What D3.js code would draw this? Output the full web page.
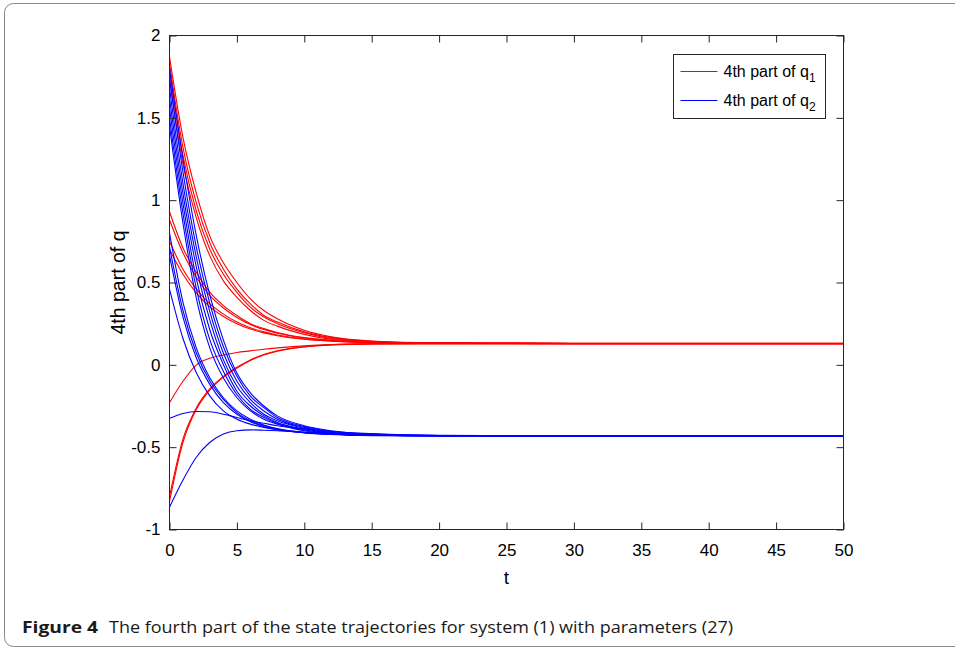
<!DOCTYPE html>
<html>
<head>
<meta charset="utf-8">
<script src="https://cdn.jsdelivr.net/npm/d3@7"></script>
<style>
  body { margin: 0; background: #fff; }
  text { font-family: "Liberation Sans", Arial, sans-serif; }
</style>
</head>
<body>
<svg id="chart" width="955" height="651"></svg>
<script>
// time samples (t)
var times = [0, 1, 2, 3, 4, 5, 6, 7, 8, 10, 12, 15, 20, 30, 50];

// 4th part of q1 (red trajectories)
var q1Top1 = [1.87, 1.38, 1.04, 0.78, 0.62, 0.50, 0.40, 0.33, 0.28, 0.21, 0.17, 0.145, 0.134, 0.131, 0.131];
var q1Top2 = [1.83, 1.32, 0.98, 0.74, 0.58, 0.46, 0.37, 0.30, 0.26, 0.20, 0.165, 0.143, 0.133, 0.131, 0.131];
var q1Top3 = [1.78, 1.27, 0.93, 0.70, 0.55, 0.44, 0.35, 0.29, 0.25, 0.195, 0.16, 0.142, 0.132, 0.13, 0.13];
var q1Top4 = [1.74, 1.22, 0.89, 0.66, 0.51, 0.41, 0.33, 0.27, 0.235, 0.185, 0.155, 0.14, 0.132, 0.13, 0.13];
var q1Mid1 = [0.93, 0.71, 0.56, 0.44, 0.36, 0.30, 0.25, 0.22, 0.196, 0.165, 0.149, 0.137, 0.132, 0.13, 0.13];
var q1Mid2 = [0.88, 0.68, 0.53, 0.42, 0.345, 0.288, 0.245, 0.214, 0.192, 0.163, 0.148, 0.137, 0.132, 0.13, 0.13];
var q1Mid3 = [0.75, 0.58, 0.46, 0.37, 0.308, 0.26, 0.225, 0.20, 0.181, 0.157, 0.145, 0.136, 0.131, 0.129, 0.129];
var q1Mid4 = [0.70, 0.55, 0.435, 0.352, 0.294, 0.25, 0.217, 0.194, 0.177, 0.155, 0.144, 0.135, 0.131, 0.129, 0.129];
var q1Low1 = [-0.23, -0.10, 0.0, 0.04, 0.06, 0.075, 0.085, 0.095, 0.103, 0.115, 0.123, 0.128, 0.129, 0.129, 0.129];
var q1Low2 = [-0.80, -0.45, -0.26, -0.145, -0.07, -0.015, 0.03, 0.063, 0.085, 0.11, 0.122, 0.127, 0.129, 0.129, 0.129];
var q1Low3 = [-0.83, -0.47, -0.27, -0.152, -0.075, -0.02, 0.027, 0.06, 0.083, 0.109, 0.121, 0.127, 0.129, 0.129, 0.129];

// 4th part of q2 (blue trajectories)
var q2Top1 = [1.80, 1.25, 0.78, 0.42, 0.15, -0.05, -0.17, -0.25, -0.31, -0.37, -0.40, -0.42, -0.429, -0.43, -0.43];
var q2Top2 = [1.74, 1.17, 0.71, 0.37, 0.11, -0.07, -0.19, -0.26, -0.32, -0.375, -0.405, -0.422, -0.43, -0.43, -0.43];
var q2Top3 = [1.68, 1.10, 0.65, 0.32, 0.07, -0.10, -0.21, -0.28, -0.33, -0.38, -0.41, -0.425, -0.43, -0.43, -0.43];
var q2Top4 = [1.62, 1.04, 0.59, 0.27, 0.03, -0.13, -0.23, -0.30, -0.34, -0.385, -0.412, -0.426, -0.43, -0.431, -0.431];
var q2Top5 = [1.56, 0.98, 0.52, 0.21, 0.0, -0.16, -0.25, -0.31, -0.35, -0.39, -0.415, -0.427, -0.431, -0.431, -0.431];
var q2Top6 = [1.50, 0.92, 0.46, 0.15, -0.04, -0.18, -0.27, -0.32, -0.355, -0.395, -0.418, -0.428, -0.431, -0.431, -0.431];
var q2Top7 = [1.45, 0.86, 0.40, 0.10, -0.08, -0.20, -0.28, -0.33, -0.36, -0.40, -0.42, -0.43, -0.431, -0.431, -0.431];
var q2Mid1 = [0.80, 0.38, 0.10, -0.08, -0.20, -0.28, -0.33, -0.365, -0.387, -0.41, -0.42, -0.428, -0.43, -0.43, -0.43];
var q2Mid2 = [0.715, 0.33, 0.07, -0.10, -0.21, -0.29, -0.34, -0.37, -0.39, -0.412, -0.422, -0.428, -0.43, -0.43, -0.43];
var q2Mid3 = [0.665, 0.29, 0.04, -0.12, -0.23, -0.30, -0.345, -0.375, -0.393, -0.413, -0.423, -0.429, -0.43, -0.43, -0.43];
var q2Mid4 = [0.46, 0.16, -0.05, -0.19, -0.28, -0.33, -0.36, -0.38, -0.395, -0.41, -0.42, -0.428, -0.43, -0.43, -0.43];
var q2Hump = [-0.325, -0.295, -0.283, -0.285, -0.30, -0.32, -0.34, -0.355, -0.37, -0.39, -0.405, -0.418, -0.428, -0.43, -0.43];
var q2Rise = [-0.865, -0.70, -0.56, -0.47, -0.42, -0.40, -0.395, -0.397, -0.40, -0.41, -0.418, -0.425, -0.43, -0.43, -0.43];

var redSeries = [q1Top1, q1Top2, q1Top3, q1Top4, q1Mid1, q1Mid2, q1Mid3, q1Mid4, q1Low1, q1Low2, q1Low3];
var blueSeries = [q2Top1, q2Top2, q2Top3, q2Top4, q2Top5, q2Top6, q2Top7, q2Mid1, q2Mid2, q2Mid3, q2Mid4, q2Hump, q2Rise];

var xTicks = [0, 5, 10, 15, 20, 25, 30, 35, 40, 45, 50];
var yTicks = [-1, -0.5, 0, 0.5, 1, 1.5, 2];
var legendLabels = ["4th part of q", "4th part of q"];
var legendSubs = ["1", "2"];

var margin = { top: 35.5, right: 111.5, bottom: 121.5, left: 169.5 };
var svg = d3.select("#chart");
var width = 955 - margin.left - margin.right;
var height = 651 - margin.top - margin.bottom;

// outer figure frame (rounded, runs off the right edge)
svg.append("rect")
  .attr("x", 4.5).attr("y", 3.5)
  .attr("width", 1000).attr("height", 643)
  .attr("rx", 9)
  .attr("fill", "none")
  .attr("stroke", "#8a8a8a")
  .attr("stroke-width", 1);

var chartGroup = svg.append("g")
  .attr("transform", `translate(${margin.left}, ${margin.top})`);

var x = d3.scaleLinear().domain([0, 50]).range([0, width]);
var y = d3.scaleLinear().domain([-1, 2]).range([height, 0]);

// clip so curves stay inside the box
chartGroup.append("clipPath").attr("id", "plotclip")
  .append("rect").attr("width", width).attr("height", height);

var line = d3.line()
  .x((d, i) => x(times[i]))
  .y(d => y(d))
  .curve(d3.curveMonotoneX);

var lines = chartGroup.append("g").attr("clip-path", "url(#plotclip)");

lines.selectAll(".red")
  .data(redSeries)
  .enter()
  .append("path")
  .attr("class", "red")
  .attr("d", line)
  .attr("fill", "none")
  .attr("stroke", "#ff0000")
  .attr("stroke-width", 1.1);

lines.selectAll(".blue")
  .data(blueSeries)
  .enter()
  .append("path")
  .attr("class", "blue")
  .attr("d", line)
  .attr("fill", "none")
  .attr("stroke", "#0000ff")
  .attr("stroke-width", 1.1);

// axes, matlab style: ticks inside on every side
function styleAxis(g) {
  g.attr("font-family", null);
  g.select(".domain").remove();
  g.selectAll(".tick line").attr("stroke", "#262626");
  g.selectAll(".tick text").attr("fill", "#000").style("font-size", "17px");
}

chartGroup.append("g")
  .attr("transform", `translate(0, ${height})`)
  .call(d3.axisBottom(x).tickValues(xTicks).tickSize(-7).tickPadding(14).tickFormat(d => String(d)))
  .call(styleAxis);

chartGroup.append("g")
  .call(d3.axisTop(x).tickValues(xTicks).tickSize(-7).tickFormat(""))
  .call(styleAxis);

chartGroup.append("g")
  .call(d3.axisLeft(y).tickValues(yTicks).tickSize(-7).tickPadding(9).tickFormat(d => String(d)))
  .call(styleAxis);

chartGroup.append("g")
  .attr("transform", `translate(${width}, 0)`)
  .call(d3.axisRight(y).tickValues(yTicks).tickSize(-7).tickFormat(""))
  .call(styleAxis);

chartGroup.append("rect")
  .attr("width", width).attr("height", height)
  .attr("fill", "none")
  .attr("stroke", "#262626")
  .attr("stroke-width", 1);

// axis labels
chartGroup.append("text")
  .attr("x", width / 2)
  .attr("y", height + 54)
  .attr("text-anchor", "middle")
  .style("font-size", "19px")
  .text("t");

chartGroup.append("text")
  .attr("transform", "rotate(-90)")
  .attr("x", -height / 2)
  .attr("y", -45)
  .attr("text-anchor", "middle")
  .style("font-size", "19.5px")
  .text("4th part of q");

// legend
var legend = svg.append("g").attr("transform", "translate(673.5, 54.5)");
legend.append("rect")
  .attr("width", 152).attr("height", 64)
  .attr("fill", "#fff")
  .attr("stroke", "#262626");

var legendColors = ["#ff0000", "#0000ff"];
legendLabels.forEach(function(label, i) {
  var ly = 17 + i * 29;
  legend.append("line")
    .attr("x1", 7).attr("x2", 44)
    .attr("y1", ly).attr("y2", ly)
    .attr("stroke", legendColors[i])
    .attr("stroke-width", 1.1);
  var t = legend.append("text")
    .attr("x", 50).attr("y", ly + 5)
    .style("font-size", "16px")
    .text(label);
  t.append("tspan")
    .attr("dy", 5)
    .style("font-size", "12px")
    .text(legendSubs[i]);
});

// caption
svg.append("text")
  .attr("x", 22).attr("y", 633)
  .style("font-family", "'Open Sans', sans-serif")
  .style("font-size", "16px")
  .style("font-weight", "bold")
  .attr("fill", "#1a1a1a")
  .attr("textLength", 76)
  .attr("lengthAdjust", "spacingAndGlyphs")
  .text("Figure 4");

svg.append("text")
  .attr("x", 109).attr("y", 633)
  .style("font-family", "'Open Sans', sans-serif")
  .style("font-size", "16px")
  .attr("fill", "#1a1a1a")
  .attr("textLength", 624)
  .attr("lengthAdjust", "spacingAndGlyphs")
  .text("The fourth part of the state trajectories for system (1) with parameters (27)");
</script>
</body>
</html>
